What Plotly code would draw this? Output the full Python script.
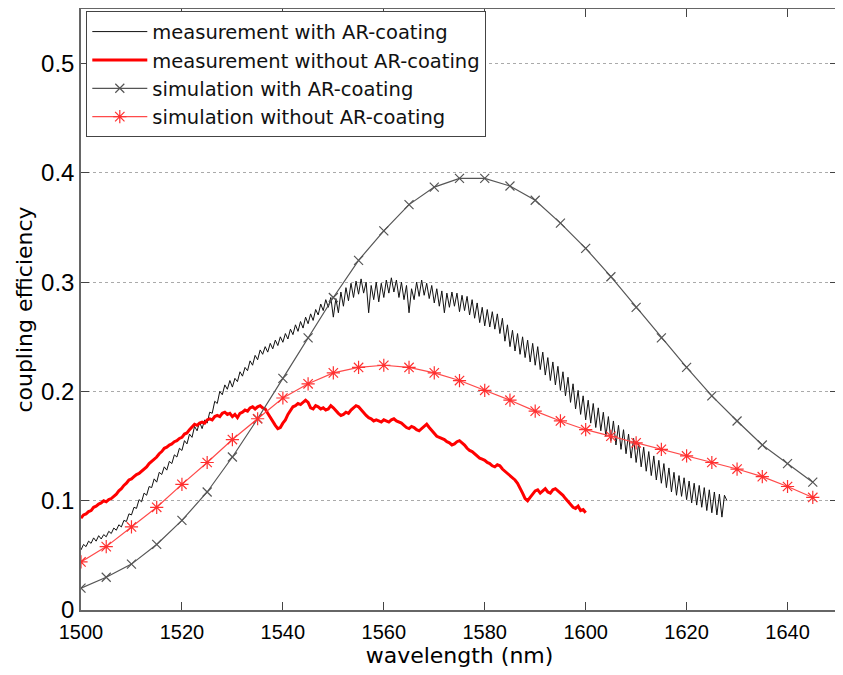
import numpy as np
import plotly.graph_objects as go

# ---------------- data ----------------
meas_ar_start = 1500.0
meas_ar_step = 0.5
meas_ar = [
    0.055, 0.060, 0.058, 0.063, 0.061, 0.066, 0.063, 0.068, 0.065, 0.069,
    0.067, 0.072, 0.070, 0.075, 0.073, 0.078, 0.076, 0.082, 0.081, 0.088,
    0.087, 0.094, 0.093, 0.101, 0.099, 0.107, 0.105, 0.113, 0.112, 0.120,
    0.117, 0.126, 0.124, 0.131, 0.128, 0.136, 0.134, 0.142, 0.140, 0.148,
    0.146, 0.155, 0.152, 0.161, 0.158, 0.168, 0.164, 0.172, 0.166, 0.174,
    0.171, 0.181, 0.180, 0.191, 0.189, 0.200, 0.197, 0.206, 0.202, 0.210,
    0.204, 0.212, 0.209, 0.218, 0.214, 0.222, 0.219, 0.228, 0.224, 0.233,
    0.229, 0.238, 0.234, 0.241, 0.236, 0.244, 0.239, 0.247, 0.242, 0.250,
    0.245, 0.253, 0.248, 0.257, 0.252, 0.261, 0.255, 0.264, 0.258, 0.268,
    0.262, 0.271, 0.265, 0.275, 0.270, 0.280, 0.274, 0.284, 0.277, 0.286,
    0.268, 0.285, 0.272, 0.291, 0.278, 0.295, 0.283, 0.299, 0.286, 0.301,
    0.289, 0.303, 0.290, 0.300, 0.272, 0.297, 0.284, 0.300, 0.282, 0.299,
    0.286, 0.302, 0.290, 0.304, 0.291, 0.302, 0.286, 0.300, 0.284, 0.297,
    0.272, 0.294, 0.284, 0.300, 0.287, 0.302, 0.288, 0.299, 0.285, 0.297,
    0.281, 0.294, 0.278, 0.292, 0.272, 0.290, 0.277, 0.291, 0.278, 0.290,
    0.273, 0.288, 0.274, 0.287, 0.270, 0.284, 0.267, 0.281, 0.263, 0.277,
    0.260, 0.275, 0.259, 0.273, 0.257, 0.271, 0.253, 0.267, 0.246, 0.261,
    0.241, 0.256, 0.237, 0.253, 0.234, 0.250, 0.231, 0.247, 0.227, 0.244,
    0.224, 0.241, 0.220, 0.236, 0.215, 0.231, 0.210, 0.227, 0.206, 0.223,
    0.201, 0.218, 0.196, 0.213, 0.190, 0.207, 0.184, 0.201, 0.179, 0.196,
    0.174, 0.192, 0.171, 0.189, 0.167, 0.185, 0.164, 0.181, 0.159, 0.177,
    0.155, 0.173, 0.151, 0.169, 0.147, 0.165, 0.143, 0.161, 0.139, 0.157,
    0.135, 0.153, 0.131, 0.149, 0.127, 0.145, 0.123, 0.141, 0.119, 0.137,
    0.116, 0.134, 0.112, 0.130, 0.108, 0.126, 0.105, 0.123, 0.104, 0.121,
    0.101, 0.118, 0.098, 0.116, 0.096, 0.114, 0.094, 0.112, 0.091, 0.110,
    0.089, 0.108, 0.087, 0.106, 0.085, 0.105, 0.100,
]

meas_noar_start = 1500.0
meas_noar_step = 0.5
meas_noar = [
    0.084, 0.087, 0.088, 0.090, 0.091, 0.094, 0.095, 0.097, 0.098, 0.100,
    0.099, 0.101, 0.102, 0.104, 0.106, 0.109, 0.111, 0.114, 0.116, 0.119,
    0.120, 0.122, 0.124, 0.125, 0.127, 0.129, 0.131, 0.134, 0.136, 0.138,
    0.140, 0.143, 0.145, 0.148, 0.149, 0.151, 0.152, 0.154, 0.155, 0.157,
    0.158, 0.161, 0.162, 0.165, 0.168, 0.170, 0.169, 0.171, 0.172, 0.171,
    0.174, 0.175, 0.174, 0.177, 0.178, 0.177, 0.180, 0.181, 0.179, 0.180,
    0.177, 0.179, 0.176, 0.180, 0.181, 0.183, 0.182, 0.185, 0.186, 0.184,
    0.186, 0.187, 0.185, 0.184, 0.180, 0.176, 0.172, 0.169, 0.166, 0.167,
    0.171, 0.174, 0.179, 0.183, 0.186, 0.187, 0.189, 0.188, 0.190, 0.192,
    0.190, 0.185, 0.184, 0.187, 0.186, 0.184, 0.185, 0.183, 0.184, 0.187,
    0.185, 0.182, 0.180, 0.178, 0.179, 0.181, 0.180, 0.183, 0.185, 0.187,
    0.186, 0.183, 0.181, 0.178, 0.176, 0.175, 0.173, 0.174, 0.173, 0.172,
    0.174, 0.173, 0.172, 0.174, 0.175, 0.173, 0.172, 0.171, 0.169, 0.167,
    0.166, 0.168, 0.167, 0.165, 0.164, 0.166, 0.168, 0.170, 0.167, 0.164,
    0.161, 0.159, 0.158, 0.157, 0.156, 0.154, 0.153, 0.151, 0.152, 0.154,
    0.155, 0.153, 0.151, 0.148, 0.146, 0.145, 0.143, 0.141, 0.139, 0.138,
    0.137, 0.135, 0.134, 0.132, 0.131, 0.133, 0.132, 0.129, 0.127, 0.125,
    0.123, 0.121, 0.119, 0.116, 0.112, 0.107, 0.102, 0.100, 0.103, 0.106,
    0.109, 0.110, 0.107, 0.109, 0.111, 0.108, 0.107, 0.110, 0.111, 0.109,
    0.107, 0.105, 0.102, 0.099, 0.097, 0.094, 0.093, 0.095, 0.091, 0.092,
    0.089,
]

sim_wavelength = [1500, 1505, 1510, 1515, 1520, 1525, 1530, 1535, 1540, 1545,
                  1550, 1555, 1560, 1565, 1570, 1575, 1580, 1585, 1590, 1595,
                  1600, 1605, 1610, 1615, 1620, 1625, 1630, 1635, 1640, 1645]
sim_ar = [0.020, 0.030, 0.042, 0.060, 0.082, 0.108, 0.140, 0.175, 0.212, 0.249,
          0.286, 0.320, 0.347, 0.371, 0.387, 0.395, 0.395, 0.388, 0.375, 0.354,
          0.331, 0.305, 0.277, 0.249, 0.222, 0.196, 0.173, 0.151, 0.134, 0.117]
sim_noar = [0.044, 0.058, 0.076, 0.094, 0.115, 0.135, 0.156, 0.175, 0.194, 0.207,
            0.217, 0.222, 0.224, 0.222, 0.217, 0.210, 0.201, 0.192, 0.182, 0.173,
            0.165, 0.159, 0.153, 0.147, 0.141, 0.135, 0.129, 0.122, 0.113, 0.103]

x_ticks = [1500, 1520, 1540, 1560, 1580, 1600, 1620, 1640]
y_ticks = [0, 0.1, 0.2, 0.3, 0.4, 0.5]
y_tick_labels = ["0", "0.1", "0.2", "0.3", "0.4", "0.5"]

# ---------------- figure ----------------
x_meas_ar = meas_ar_start + meas_ar_step * np.arange(len(meas_ar))
x_meas_noar = meas_noar_start + meas_noar_step * np.arange(len(meas_noar))

FONT = "Liberation Sans, Arial, sans-serif"
WIDE = "DejaVu Sans, Verdana, sans-serif"

fig = go.Figure()
fig.add_trace(go.Scatter(
    x=x_meas_ar, y=meas_ar, mode="lines", name="measurement with AR-coating",
    line=dict(color="#111111", width=1)))
fig.add_trace(go.Scatter(
    x=x_meas_noar, y=meas_noar, mode="lines", name="measurement without AR-coating",
    line=dict(color="#ff0000", width=3)))
fig.add_trace(go.Scatter(
    x=sim_wavelength, y=sim_ar, mode="lines+markers", name="simulation with AR-coating",
    line=dict(color="#555555", width=1.2),
    marker=dict(symbol="x-thin-open", size=9, color="#555555",
                line=dict(color="#555555", width=1.2))))
fig.add_trace(go.Scatter(
    x=sim_wavelength, y=sim_noar, mode="lines+markers", name="simulation without AR-coating",
    line=dict(color="#ff4a4a", width=1.2),
    marker=dict(symbol="asterisk-open", size=11, color="#ff3030",
                line=dict(color="#ff3030", width=1.2))))

# the page body adds an 8 px offset, so the figure is 8 px smaller than the window
fig.update_layout(
    width=835, height=667,
    margin=dict(l=73, r=5, t=1, b=65),
    paper_bgcolor="white", plot_bgcolor="white",
    font=dict(family=FONT, color="black"),
    showlegend=True,
    legend=dict(x=0.007, y=0.996, xanchor="left", yanchor="top",
                bordercolor="#444444", borderwidth=1, bgcolor="white",
                font=dict(size=19.5, family=WIDE, color="#111111"),
                tracegroupgap=0, itemwidth=55),
)
fig.update_xaxes(
    range=[1500, 1650], tickvals=x_ticks, ticks="inside", ticklen=8,
    tickcolor="#444444", showline=True, linecolor="#666666", linewidth=1.5,
    mirror="ticks", showgrid=False, zeroline=False, automargin=False,
    tickfont=dict(size=20, family=FONT), ticklabelstandoff=3,
    title=dict(text="wavelength (nm)", font=dict(size=22, family=WIDE), standoff=6),
)
fig.update_yaxes(
    range=[0, 0.55], tickvals=y_ticks, ticktext=y_tick_labels, ticks="inside", ticklen=8,
    tickcolor="#444444", showline=True, linecolor="#666666", linewidth=1.5,
    mirror="ticks", showgrid=True, gridcolor="#aaaaaa", griddash="dot", gridwidth=1,
    zeroline=False, automargin=False,
    tickfont=dict(size=24, family=FONT),
    title=dict(text="coupling efficiency", font=dict(size=22, family=WIDE), standoff=2),
)

fig.write_html("out.html")
